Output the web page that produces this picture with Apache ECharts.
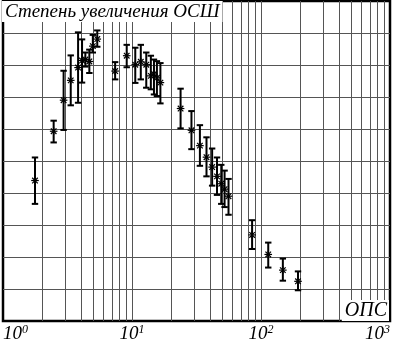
<!DOCTYPE html>
<html>
<head>
<meta charset="utf-8">
<script src="https://cdn.jsdelivr.net/npm/echarts@6/dist/echarts.min.js"></script>
<style>
html,body{margin:0;padding:0;background:#fff;}
#chart{width:393px;height:343px;}
</style>
</head>
<body>
<div id="chart"></div>
<script>
// ОПС values (x, log scale)
const xValues = [1.77, 2.47, 2.95, 3.35, 3.82, 4.10, 4.35, 4.67, 4.97, 5.38,
  7.40, 9.10, 10.6, 11.7, 12.9, 14.0, 14.8, 15.6, 16.6,
  23.8, 28.9, 33.6, 37.8, 41.8, 45.6, 49.2, 52.2, 56.0,
  85.3, 113.8, 147.7, 193.6];
// mean (star) values
const meanValues = [4.39, 5.93, 6.90, 7.52, 7.92, 8.14, 8.17, 8.11, 8.59, 8.81,
  7.81, 8.29, 8.01, 8.10, 8.01, 7.66, 7.72, 7.60, 7.45,
  6.64, 5.96, 5.48, 5.12, 4.81, 4.52, 4.29, 4.12, 3.90,
  2.69, 2.08, 1.59, 1.24];
// upper end of error bar
const upperValues = [5.11, 6.26, 7.82, 8.30, 9.02, 8.80, 8.39, 8.48, 8.94, 9.08,
  8.09, 8.63, 8.54, 8.63, 8.39, 8.29, 8.17, 8.12, 8.06,
  7.26, 6.56, 6.12, 5.74, 5.39, 5.11, 4.88, 4.70, 4.44,
  3.15, 2.45, 1.95, 1.55];
// lower end of error bar
const lowerValues = [3.66, 5.58, 5.97, 6.74, 6.82, 7.45, 7.95, 7.75, 8.39, 8.57,
  7.55, 7.93, 7.44, 7.55, 7.29, 7.24, 7.08, 7.03, 6.80,
  6.02, 5.37, 4.85, 4.52, 4.23, 3.94, 3.66, 3.56, 3.32,
  2.25, 1.67, 1.26, 0.96];
// minor vertical grid line values
const minorGridValues = [2, 3, 4, 5, 6, 7, 8, 9, 20, 30, 40, 50, 60, 70, 80, 90, 200, 300, 400, 500, 600, 700, 800, 900];
const yMin = 0, yMax = 10, yInterval = 1;
const xMin = 1, xMax = 1000;
const titleText = 'Степень увеличения ОСШ';
const xName = 'ОПС';

const FONT = 'Liberation Serif';
const GRID_COLOR = '#555';

const chart = echarts.init(document.getElementById('chart'), null, {renderer: 'canvas'});

const errData = xValues.map((x, i) => [x, lowerValues[i], upperValues[i], meanValues[i]]);
const gridData = minorGridValues.map(v => [v, yMin]);

function renderGrid(params, api) {
  const v = api.value(0);
  const p0 = api.coord([v, yMin]);
  const p1 = api.coord([v, yMax]);
  return {
    type: 'line',
    shape: {x1: Math.round(p0[0]) + 0.5, y1: p0[1], x2: Math.round(p1[0]) + 0.5, y2: p1[1]},
    style: {stroke: GRID_COLOR, lineWidth: 1},
    silent: true
  };
}

function renderErr(params, api) {
  const x = api.value(0), lo = api.value(1), hi = api.value(2), m = api.value(3);
  const pt = api.coord([x, hi]);
  const pb = api.coord([x, lo]);
  const pm = api.coord([x, m]);
  const cx = pt[0];
  const cap = 3.2, s = 3.8, d = 2.8;
  const st = {stroke: '#000', lineWidth: 2};
  const ss = {stroke: '#000', lineWidth: 1.2};
  return {
    type: 'group',
    children: [
      {type: 'line', shape: {x1: cx, y1: pt[1], x2: cx, y2: pb[1]}, style: st},
      {type: 'line', shape: {x1: cx - cap, y1: pt[1], x2: cx + cap, y2: pt[1]}, style: st},
      {type: 'line', shape: {x1: cx - cap, y1: pb[1], x2: cx + cap, y2: pb[1]}, style: st},
      {type: 'line', shape: {x1: cx - s, y1: pm[1], x2: cx + s, y2: pm[1]}, style: ss},
      {type: 'line', shape: {x1: cx, y1: pm[1] - s, x2: cx, y2: pm[1] + s}, style: ss},
      {type: 'line', shape: {x1: cx - d, y1: pm[1] - d, x2: cx + d, y2: pm[1] + d}, style: ss},
      {type: 'line', shape: {x1: cx - d, y1: pm[1] + d, x2: cx + d, y2: pm[1] - d}, style: ss}
    ]
  };
}

const option = {
  animation: false,
  backgroundColor: '#fff',
  title: [
    {
      text: titleText,
      left: 2, top: 1,
      padding: [1, 3, 1, 3],
      backgroundColor: '#fff',
      textStyle: {fontFamily: FONT, fontStyle: 'italic', fontWeight: 'normal', fontSize: 19, color: '#000'}
    },
    {
      text: xName,
      right: 4, bottom: 22,
      padding: [1, 2, 0, 3],
      backgroundColor: '#fff',
      textStyle: {fontFamily: FONT, fontStyle: 'italic', fontWeight: 'normal', fontSize: 20, color: '#000'}
    }
  ],
  grid: {
    left: 1, right: 2, top: 1, bottom: 20,
    show: true, borderColor: '#000', borderWidth: 2.5, backgroundColor: 'transparent'
  },
  xAxis: {
    type: 'log', logBase: 10, min: xMin, max: xMax,
    axisLine: {show: false},
    axisTick: {show: false},
    splitLine: {show: true, showMinLine: false, showMaxLine: false, lineStyle: {color: GRID_COLOR, width: 1}},
    axisLabel: {
      show: true, margin: 3,
      showMinLabel: true, showMaxLabel: true,
      alignMinLabel: 'left', alignMaxLabel: 'right',
      formatter: function (v) {
        const e = Math.round(Math.log10(v));
        return '{b|10}{s|' + e + '}';
      },
      rich: {
        b: {fontFamily: FONT, fontStyle: 'italic', fontSize: 19, color: '#000', lineHeight: 19},
        s: {fontFamily: FONT, fontStyle: 'italic', fontSize: 12, color: '#000', verticalAlign: 'top', lineHeight: 12}
      }
    }
  },
  yAxis: {
    type: 'value', min: yMin, max: yMax, interval: yInterval,
    axisLine: {show: false}, axisTick: {show: false}, axisLabel: {show: false},
    splitLine: {show: true, showMinLine: false, showMaxLine: false, lineStyle: {color: GRID_COLOR, width: 1}}
  },
  series: [
    {
      type: 'custom', name: 'grid', renderItem: renderGrid, data: gridData,
      encode: {x: 0, y: 1}, silent: true, z: 1, clip: true
    },
    {
      type: 'custom', name: 'err', renderItem: renderErr, data: errData,
      encode: {x: 0, y: [1, 2, 3]}, z: 3, clip: true
    }
  ]
};
chart.setOption(option);
</script>
</body>
</html>
